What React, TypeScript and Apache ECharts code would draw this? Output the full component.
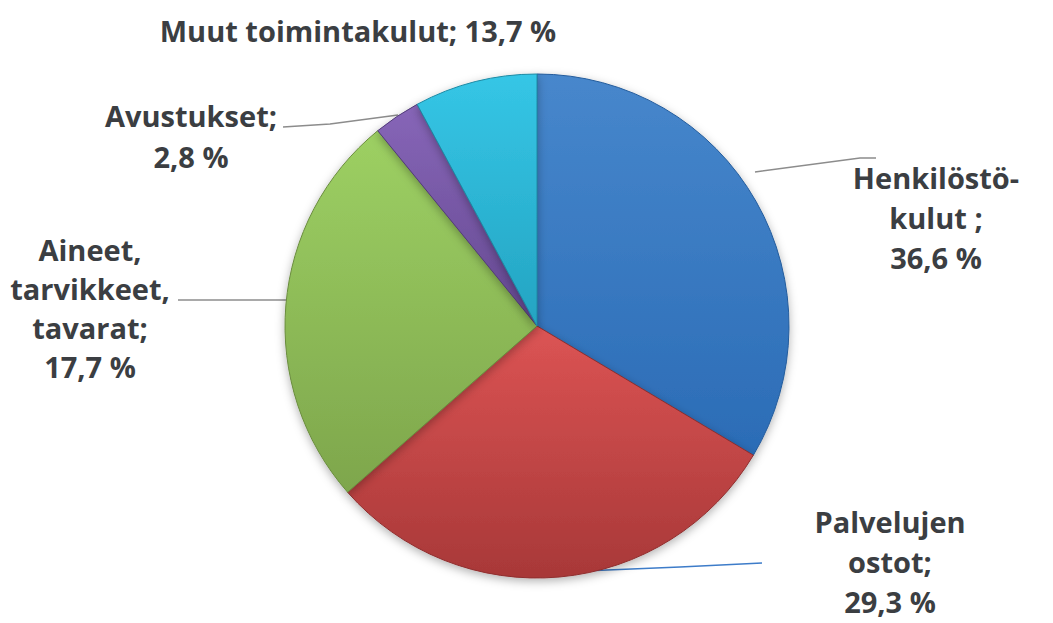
import React, { useEffect, useRef } from "react";
import * as echarts from "echarts";

// Categories in drawing order (clockwise from 12 o'clock)
const categories = [
  "Henkilöstökulut",
  "Palvelujen ostot",
  "Aineet, tarvikkeet, tavarat",
  "Avustukset",
  "Muut toimintakulut",
];
// Label texts as printed on the chart
const labelNames = [
  "Henkilöstö-\nkulut ;",
  "Palvelujen\nostot;",
  "Aineet,\ntarvikkeet,\ntavarat;",
  "Avustukset;",
  "Muut toimintakulut;",
];
const printedPercents = ["36,6 %", "29,3 %", "17,7 %", "2,8 %", "13,7 %"];
const sliceShares = [33.6, 30.0, 25.6, 3.0, 7.9];

const palette = [
  ["#4787cc", "#2b6cb6"],
  ["#dc5454", "#a83838"],
  ["#9dd063", "#7ea64c"],
  ["#8766b8", "#644890"],
  ["#35c6e6", "#24a4c2"],
];
const borders = ["#245c9c", "#8e2e2e", "#6a8c3e", "#533c7a", "#1e8aa4"];
const leaderColors = ["#8c8c8c", "#3d7cc9", "#8c8c8c", "#8c8c8c", "#8c8c8c"];
const labelSeparators = ["\n", "\n", "\n", "\n", " "];
const labelLineHeights = [40, 40, 39, 41, 40];
const labelPlaces = [
  [936, 217],
  [890, 561],
  [90, 308],
  [191, 136],
  [358, 30],
];
const leaderPaths = [
  [[755, 172], [860, 158], [876, 158]],
  [[583, 571], [680, 567], [762, 563]],
  [[288, 300], [230, 300], [178, 300]],
  [[398, 115], [330, 124], [283, 127]],
  null,
];

export default function App() {
  const ref = useRef<HTMLDivElement>(null);
  useEffect(() => {
    if (!ref.current) return;
    const chart = echarts.init(ref.current, null, { renderer: "svg" });
    const data = categories.map((name, i) => ({
      name,
      value: sliceShares[i],
      itemStyle: {
        color: {
          type: "linear",
          x: 0,
          y: 0,
          x2: 0,
          y2: 1,
          colorStops: [
            { offset: 0, color: palette[i][0] },
            { offset: 1, color: palette[i][1] },
          ],
        },
        borderColor: borders[i],
      },
      label: {
        formatter: labelNames[i] + labelSeparators[i] + printedPercents[i],
        lineHeight: labelLineHeights[i],
      },
      labelLine: {
        show: i !== 4,
        lineStyle: { color: leaderColors[i] },
      },
    }));
    chart.setOption({
      animation: false,
      backgroundColor: "#ffffff",
      series: [
        {
          type: "pie",
          center: [537, 326],
          radius: 252,
          startAngle: 90,
          clockwise: true,
          data,
          itemStyle: {
            borderWidth: 1,
            shadowBlur: 10,
            shadowOffsetY: 3,
            shadowColor: "rgba(0,0,0,0.3)",
          },
          label: {
            show: true,
            position: "outside",
            fontFamily: "Open Sans",
            fontWeight: "bold",
            fontSize: 29,
            color: "#3b3e42",
            align: "center",
          },
          labelLine: {
            show: true,
            length: 20,
            length2: 20,
            lineStyle: { width: 1.5 },
          },
          labelLayout: (params: any) => {
            const i = params.dataIndex;
            const p = labelPlaces[i];
            const out: any = { x: p[0], y: p[1], align: "center", verticalAlign: "middle" };
            if (leaderPaths[i]) out.labelLinePoints = leaderPaths[i];
            return out;
          },
        },
      ],
    });
    return () => chart.dispose();
  }, []);
  return (
    <div
      ref={ref}
      style={{ position: "fixed", left: 0, top: 0, width: 1053, height: 623 }}
    />
  );
}
